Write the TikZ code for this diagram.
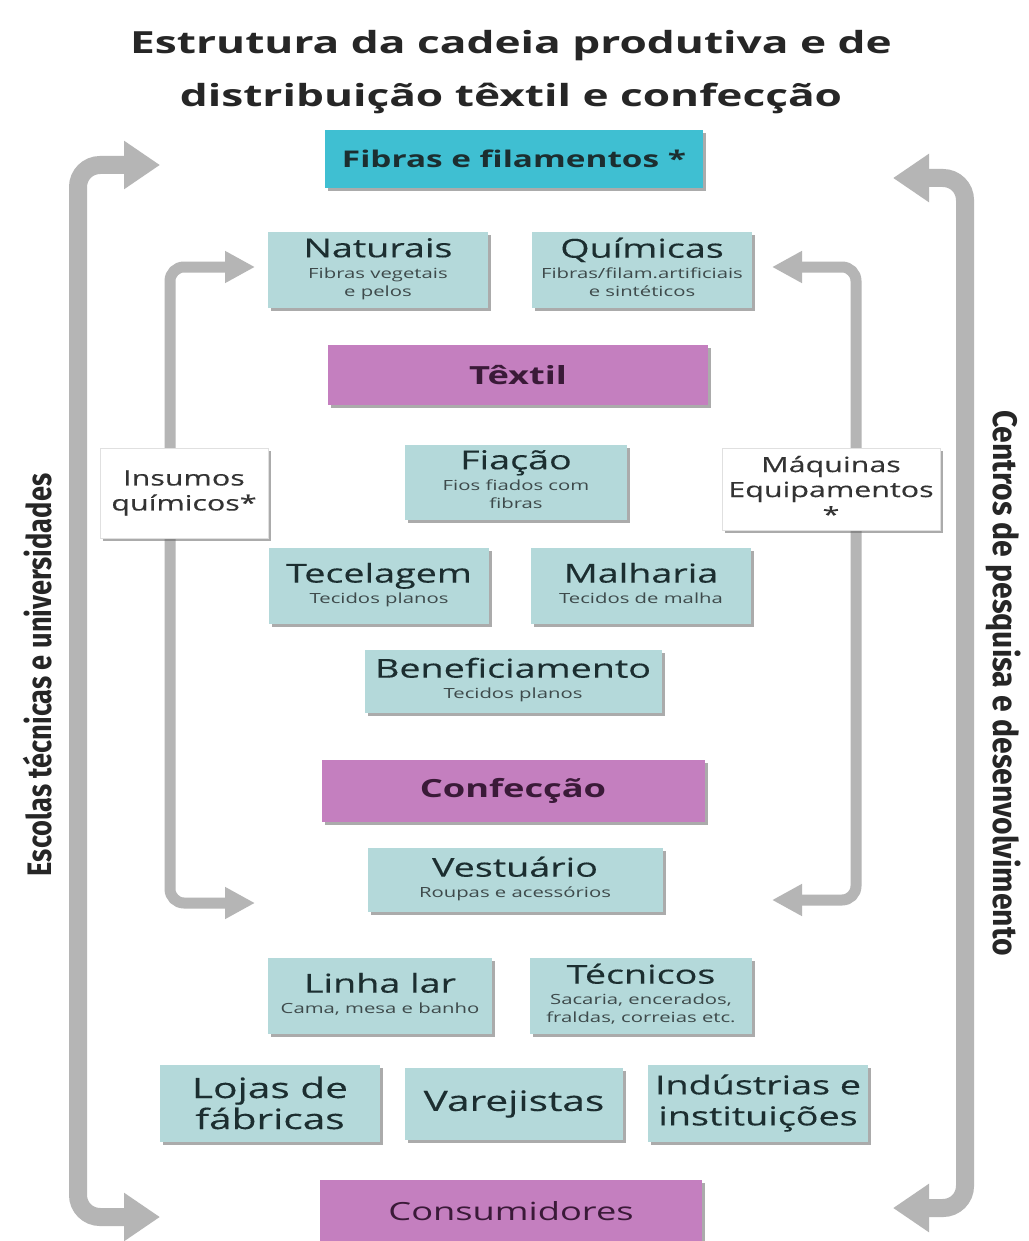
\documentclass[tikz,border=0pt]{standalone}
\usepackage{fontspec}
\setmainfont[FakeStretch=1.45]{Open Sans}
\newfontfamily\boxfont[FakeStretch=1.45,FakeBold=0.35]{Open Sans}
\newfontfamily\sidefont{Fira Sans}
\usetikzlibrary{arrows.meta,shadows}

\definecolor{boxblue}{HTML}{B4D9DA}
\definecolor{boxcyan}{HTML}{3FBFD2}
\definecolor{boxpink}{HTML}{C47FBF}
\definecolor{inkdark}{HTML}{1C2E30}
\definecolor{inkpurple}{HTML}{3A1A38}
\definecolor{arrowgray}{HTML}{B5B5B5}
\definecolor{subgray}{HTML}{3E4A4B}

% a stage box text: large name over a small description
\newcommand{\stagetext}[2]{%
  \begin{tabular}{@{}c@{}}%
  \boxfont\fontsize{26}{26}\selectfont #1\\[5pt]%
  \fontsize{14}{18}\selectfont\color{subgray}\begin{tabular}{@{}c@{}}#2\end{tabular}%
  \end{tabular}}

\tikzset{
  shadowed/.style={drop shadow={shadow xshift=3pt,shadow yshift=-3pt,opacity=0.55,fill=black!60}},
  stagebox/.style={shadowed,fill=boxblue,text=inkdark,align=center,inner sep=0pt,
    minimum width=220,minimum height=76},
  headbox/.style={shadowed,fill=boxpink,text=inkpurple,align=center,inner sep=0pt,
    minimum width=380,minimum height=60},
  inputbox/.style={shadowed,fill=white,draw=black!12,text=black!80,align=center,inner sep=0pt},
  bigflow/.style={draw=arrowgray,line width=18,rounded corners=22,
    {Triangle[width=46,length=36]}-{Triangle[width=46,length=36]}},
  smallflow/.style={draw=arrowgray,line width=11,rounded corners=14,
    {Triangle[width=30,length=30]}-{Triangle[width=30,length=30]}},
  sidetext/.style={font=\sidefont\bfseries\fontsize{34}{34}\selectfont,text=black!85}
}

\begin{document}
\begin{tikzpicture}[x=1pt,y=-1pt]
\useasboundingbox[fill=white] (0,0) rectangle (1028,1241);

% title
\node (title) at (511,72) [align=center,text=black!85,font=\bfseries\fontsize{30.5}{53}\selectfont]
  {Estrutura da cadeia produtiva e de\\distribuição têxtil e confecção};

% end points of the feedback arrows
\coordinate (oltop) at (160,165);
\coordinate (olbot) at (160,1217);
\coordinate (ortop) at (893,178);
\coordinate (orbot) at (893,1208);
\coordinate (iltop) at (255,267);
\coordinate (ilbot) at (255,903);
\coordinate (irtop) at (772,267);
\coordinate (irbot) at (772,900);

% outer arrows
\draw[bigflow] (oltop) -- (78,165) -- (78,1217) -- (olbot);
\draw[bigflow] (ortop) -- (965,178) -- (965,1208) -- (orbot);
% inner arrows
\draw[smallflow] (iltop) -- (170,267) -- (170,903) -- (ilbot);
\draw[smallflow] (irtop) -- (856,267) -- (856,900) -- (irbot);

% side labels
\node (escolas) at (38,675) [sidetext,rotate=90]
  {\scalebox{0.8}[1]{Escolas técnicas e universidades}};
\node (centros) at (1003,683) [sidetext,rotate=-90]
  {\scalebox{0.886}[1]{Centros de pesquisa e desenvolvimento}};

% raw materials
\node (fibras) at (514,159) [shadowed,fill=boxcyan,text=inkdark,minimum width=378,minimum height=58,
  inner sep=0pt,font=\bfseries\fontsize{23}{23}\selectfont] {Fibras e filamentos *};
\node (naturais) at (378,270) [stagebox]
  {\stagetext{Naturais}{Fibras vegetais\\e pelos}};
\node (quimicas) at (642,270) [stagebox]
  {\stagetext{Químicas}{Fibras/filam.artificiais\\e sintéticos}};

% textile stage
\node (textil) at (518,375) [headbox,font=\bfseries\fontsize{25}{25}\selectfont] {Têxtil};
\node (fiacao) at (516,482) [stagebox,minimum width=222,minimum height=75]
  {\stagetext{Fiação}{Fios fiados com\\fibras}};
\node (tecelagem) at (379,586) [stagebox]
  {\stagetext{Tecelagem}{Tecidos planos}};
\node (malharia) at (641,586) [stagebox]
  {\stagetext{Malharia}{Tecidos de malha}};
\node (benef) at (513,681) [stagebox,minimum width=297,minimum height=63]
  {\stagetext{Beneficiamento}{Tecidos planos}};

% inputs
\node (insumos) at (184,493) [inputbox,minimum width=168,minimum height=90,
  font=\boxfont\fontsize{21}{25}\selectfont] {Insumos\\químicos*};
\node (maquinas) at (831,489) [inputbox,minimum width=218,minimum height=82,
  font=\boxfont\fontsize{21}{25}\selectfont] {Máquinas\\Equipamentos\\*};

% clothing stage
\node (confeccao) at (513,791) [headbox,font=\bfseries\fontsize{25}{25}\selectfont,minimum width=383,minimum height=62] {Confecção};
\node (vestuario) at (515,880) [stagebox,minimum width=295,minimum height=64]
  {\stagetext{Vestuário}{Roupas e acessórios}};
\node (linhalar) at (380,996) [stagebox,minimum width=224]
  {\stagetext{Linha lar}{Cama, mesa e banho}};
\node (tecnicos) at (641,996) [stagebox,minimum width=222]
  {\stagetext{Técnicos}{Sacaria, encerados,\\fraldas, correias etc.}};

% distribution
\node (lojas) at (270,1103) [stagebox,minimum width=220,minimum height=77,
  font=\boxfont\fontsize{28}{31}\selectfont] {Lojas de\\fábricas};
\node (varejistas) at (514,1104) [stagebox,minimum width=218,minimum height=72,
  font=\boxfont\fontsize{28}{31}\selectfont] {Varejistas};
\node (industrias) at (758,1103) [stagebox,minimum width=220,minimum height=77,
  font=\boxfont\fontsize{26}{31}\selectfont] {Indústrias e\\instituições};

% consumers
\node (consumidores) at (511,1211) [headbox,font=\fontsize{25}{25}\selectfont,minimum width=382,minimum height=62] {Consumidores};
\end{tikzpicture}
\end{document}
